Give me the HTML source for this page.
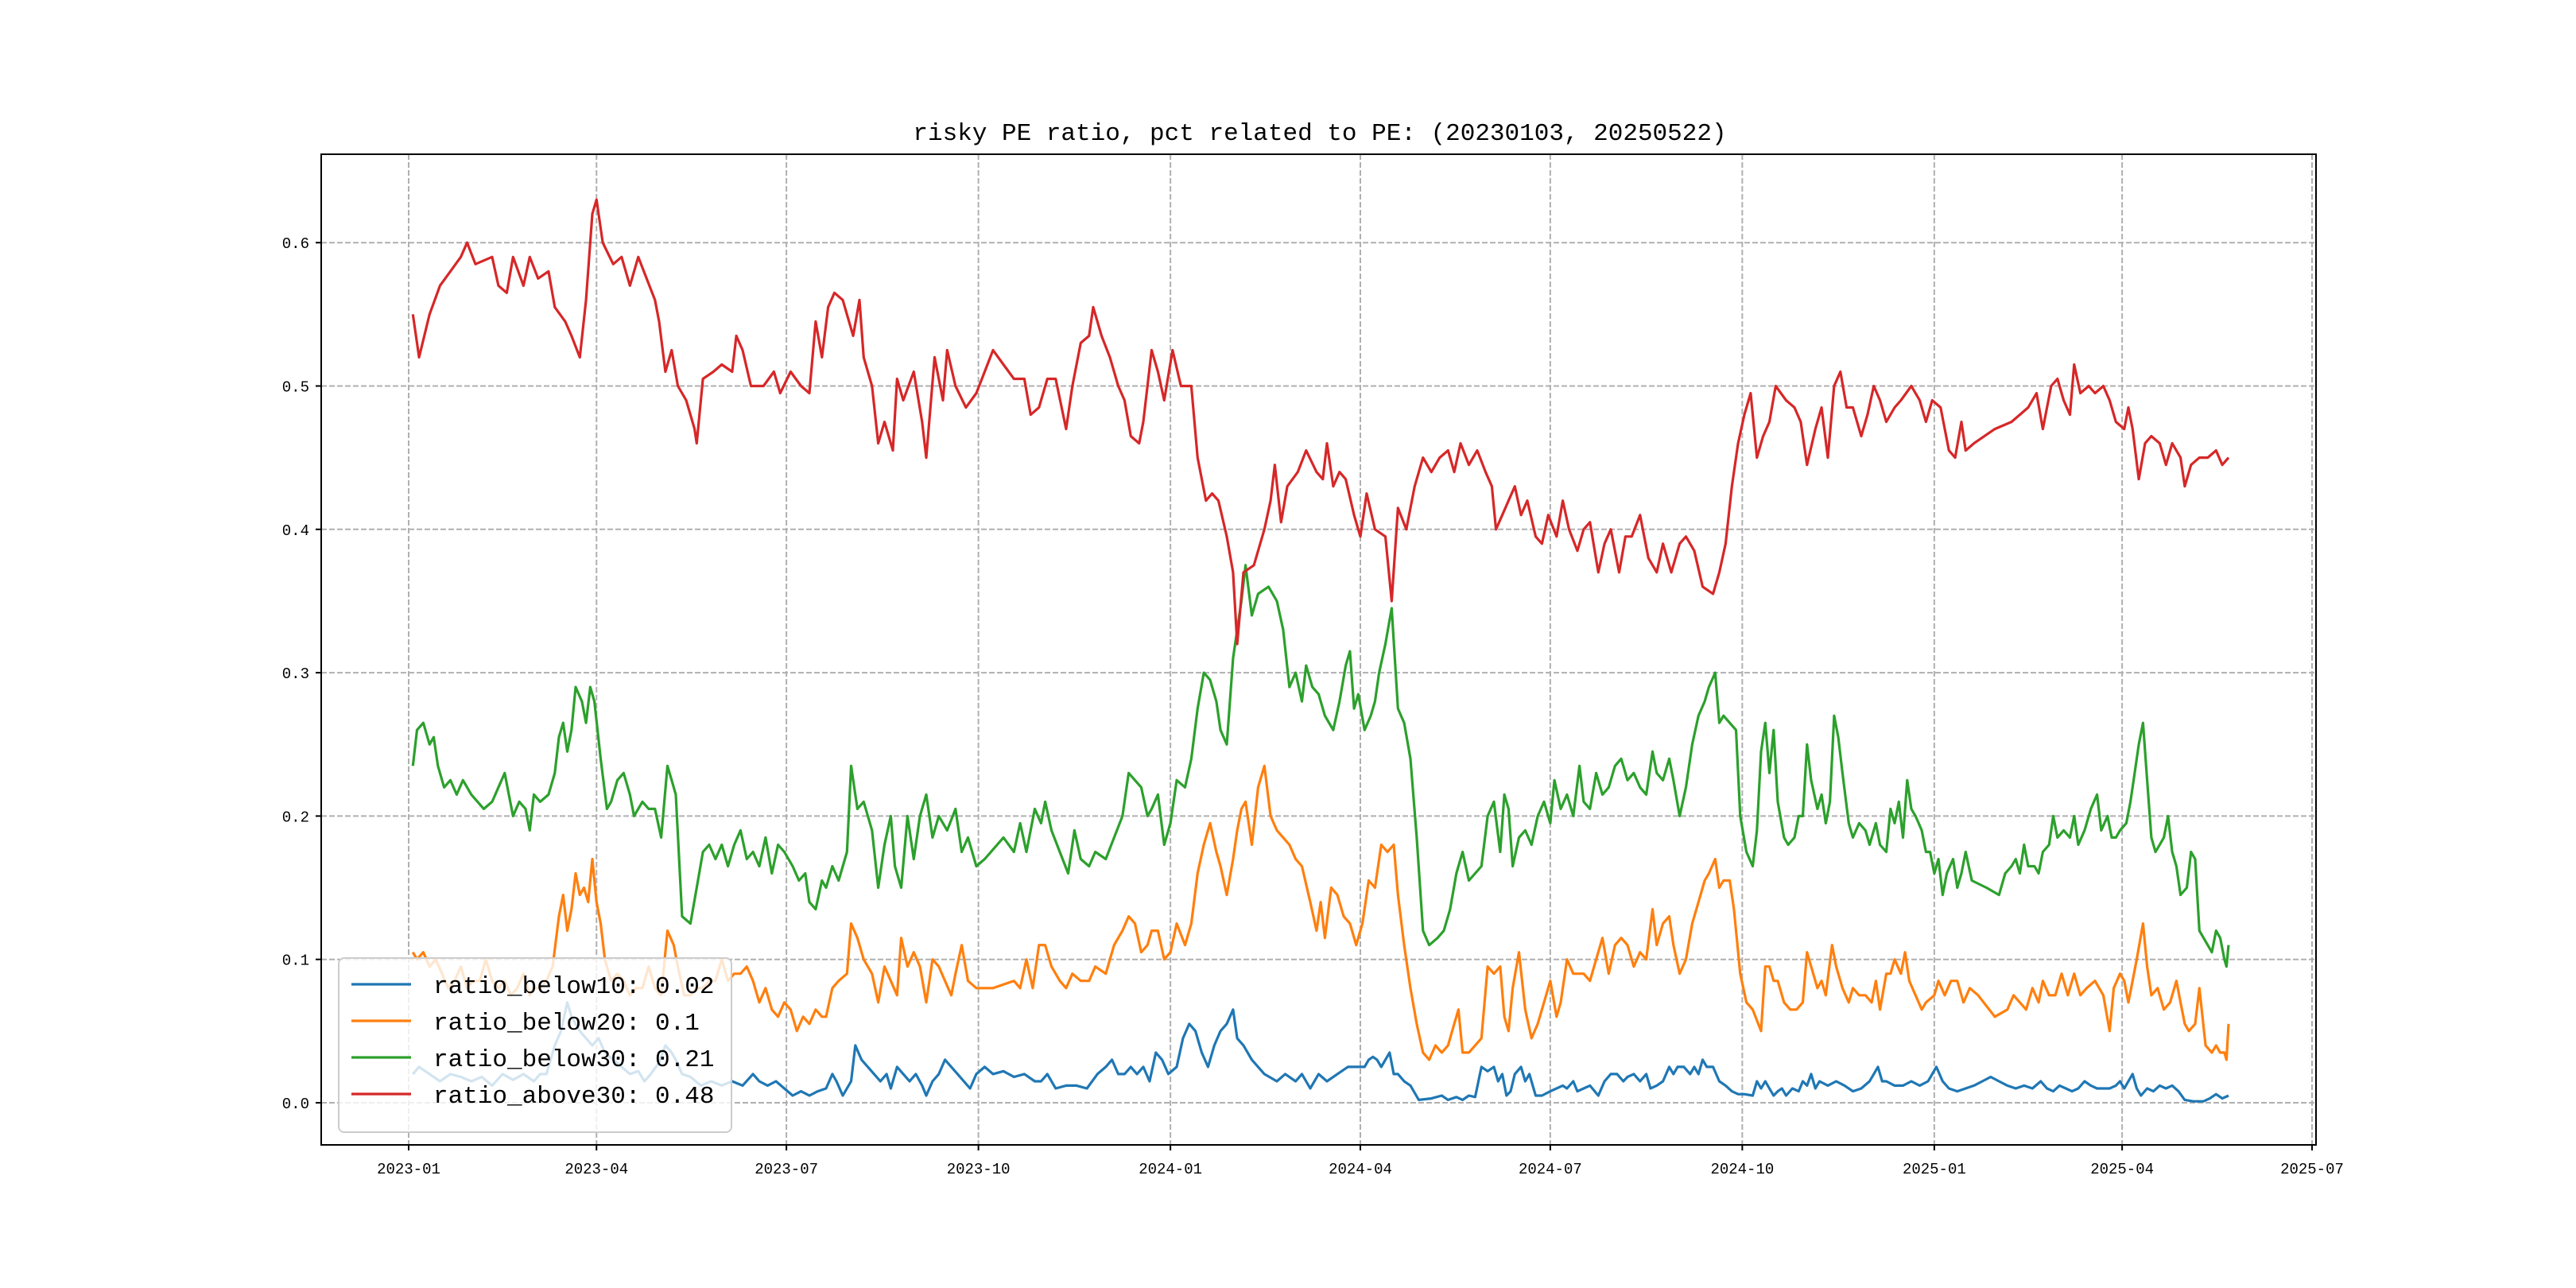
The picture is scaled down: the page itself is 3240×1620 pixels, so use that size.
<!DOCTYPE html>
<html><head><meta charset="utf-8"><style>
html,body{margin:0;padding:0;background:#fff;}
svg{display:block;}
text{font-family:"Liberation Mono","Noto Sans CJK SC",monospace;fill:#000;}
</style></head>
<body>
<svg id="chart" width="3240" height="1620" xmlns="http://www.w3.org/2000/svg">
<rect width="3240" height="1620" fill="#fff"/>
<text x="1660" y="176" font-size="31" text-anchor="middle">risky PE ratio, pct related to PE: (20230103, 20250522)</text>
<g id="grid"></g><g id="ticks"></g><g id="series"></g>
<rect x="404" y="194" width="2509" height="1246" fill="none" stroke="#000" stroke-width="2"/>
<g id="legend"></g>
</svg>
<script>
const NS="http://www.w3.org/2000/svg";
const xTickLabels=["2023-01","2023-04","2023-07","2023-10","2024-01","2024-04","2024-07","2024-10","2025-01","2025-04","2025-07"];
const xTickDays=[0,90,181,273,365,456,547,639,731,821,912];
const yTicks=[0,0.1,0.2,0.3,0.4,0.5,0.6];
const yTickLabels=["0.0","0.1","0.2","0.3","0.4","0.5","0.6"];
const seriesNames=["ratio_below10","ratio_below20","ratio_below30","ratio_above30"];
const lastValues=["0.02","0.1","0.21","0.48"];
const colors=["#1f77b4","#ff7f0e","#2ca02c","#d62728"];
const below10=[[2,.02],[5,.025],[10,.02],[15,.015],[20,.02],[25,.018],[30,.015],[35,.018],[40,.012],[45,.02],[50,.016],[55,.02],[60,.015],[63,.02],[66,.02],[70,.04],[73,.05],[76,.07],[78,.06],[80,.055],[82,.05],[85,.045],[88,.04],[91,.045],[94,.035],[98,.03],[102,.025],[106,.02],[110,.022],[113,.015],[116,.02],[120,.028],[123,.04],[126,.035],[128,.03],[131,.02],[135,.018],[140,.012],[145,.015],[150,.012],[155,.015],[160,.012],[165,.02],[168,.015],[172,.012],[176,.015],[180,.01],[184,.005],[188,.008],[192,.005],[196,.008],[200,.01],[203,.02],[205,.015],[208,.005],[212,.015],[214,.04],[217,.03],[220,.025],[223,.02],[226,.015],[229,.02],[231,.01],[234,.025],[237,.02],[240,.015],[243,.02],[246,.012],[248,.005],[251,.015],[254,.02],[257,.03],[260,.025],[263,.02],[266,.015],[269,.01],[272,.02],[276,.025],[280,.02],[285,.022],[290,.018],[295,.02],[300,.015],[303,.015],[306,.02],[310,.01],[315,.012],[320,.012],[325,.01],[330,.02],[334,.025],[337,.03],[340,.02],[343,.02],[346,.025],[349,.02],[352,.025],[355,.015],[358,.035],[361,.03],[364,.02],[368,.025],[371,.045],[374,.055],[377,.05],[380,.035],[383,.025],[386,.04],[389,.05],[392,.055],[395,.065],[397,.045],[400,.04],[404,.03],[410,.02],[416,.015],[420,.02],[425,.015],[428,.02],[432,.01],[436,.02],[440,.015],[445,.02],[450,.025],[455,.025],[458,.025],[460,.03],[462,.032],[464,.03],[466,.025],[468,.03],[470,.035],[472,.02],[474,.02],[477,.015],[480,.012],[484,.002],[490,.003],[495,.005],[498,.002],[502,.004],[505,.002],[508,.005],[511,.004],[514,.025],[517,.022],[520,.025],[522,.015],[524,.02],[526,.005],[528,.008],[530,.02],[533,.025],[535,.015],[537,.02],[540,.005],[543,.005],[547,.008],[550,.01],[553,.012],[555,.01],[558,.015],[560,.008],[563,.01],[566,.012],[570,.005],[573,.015],[576,.02],[579,.02],[582,.015],[584,.018],[587,.02],[590,.015],[593,.02],[595,.01],[598,.012],[601,.015],[604,.025],[606,.02],[608,.025],[611,.025],[614,.02],[616,.025],[618,.02],[620,.03],[622,.025],[625,.025],[628,.015],[631,.012],[634,.008],[637,.006],[640,.006],[644,.005],[646,.015],[648,.01],[650,.015],[652,.01],[654,.005],[656,.008],[658,.01],[660,.005],[663,.01],[666,.008],[668,.015],[670,.012],[672,.02],[674,.01],[676,.015],[680,.012],[684,.015],[688,.012],[692,.008],[696,.01],[700,.015],[702,.02],[704,.025],[706,.015],[708,.015],[712,.012],[716,.012],[720,.015],[724,.012],[728,.015],[730,.02],[732,.025],[735,.015],[738,.01],[742,.008],[746,.01],[750,.012],[754,.015],[758,.018],[762,.015],[766,.012],[770,.01],[774,.012],[778,.01],[782,.015],[785,.01],[788,.008],[791,.012],[794,.01],[797,.008],[800,.01],[803,.015],[806,.012],[809,.01],[812,.01],[815,.01],[818,.012],[820,.015],[822,.01],[824,.015],[826,.02],[828,.01],[830,.005],[833,.01],[836,.008],[839,.012],[842,.01],[845,.012],[848,.008],[851,.002],[855,.001],[860,.001],[863,.003],[866,.006],[869,.003],[872,.005]];
const below20=[[2,.105],[4,.1],[7,.105],[10,.095],[13,.1],[16,.09],[19,.08],[22,.085],[25,.095],[28,.08],[31,.085],[34,.085],[37,.1],[40,.085],[43,.08],[46,.085],[49,.075],[52,.08],[55,.09],[58,.075],[60,.08],[63,.08],[66,.085],[69,.095],[72,.13],[74,.145],[76,.12],[78,.135],[80,.16],[82,.145],[84,.15],[86,.14],[88,.17],[90,.14],[92,.125],[94,.1],[97,.085],[100,.09],[103,.085],[106,.075],[109,.08],[112,.08],[115,.095],[118,.08],[121,.075],[124,.12],[127,.11],[129,.095],[132,.075],[135,.075],[138,.08],[141,.08],[144,.085],[147,.085],[150,.1],[153,.085],[156,.09],[159,.09],[162,.095],[165,.085],[168,.07],[171,.08],[174,.065],[177,.06],[180,.07],[183,.065],[186,.05],[189,.06],[192,.055],[195,.065],[198,.06],[200,.06],[203,.08],[206,.085],[210,.09],[212,.125],[215,.115],[218,.1],[222,.09],[225,.07],[228,.095],[231,.085],[234,.075],[236,.115],[239,.095],[242,.105],[245,.095],[248,.07],[251,.1],[254,.095],[257,.085],[260,.075],[262,.09],[265,.11],[268,.085],[272,.08],[280,.08],[290,.085],[293,.08],[296,.1],[299,.08],[302,.11],[305,.11],[308,.095],[312,.085],[315,.08],[318,.09],[322,.085],[326,.085],[329,.095],[334,.09],[338,.11],[342,.12],[345,.13],[348,.125],[351,.105],[354,.11],[356,.12],[359,.12],[362,.1],[365,.105],[368,.125],[372,.11],[375,.125],[378,.16],[381,.18],[384,.195],[387,.175],[389,.165],[392,.145],[395,.17],[397,.19],[399,.205],[401,.21],[404,.18],[407,.22],[410,.235],[413,.2],[416,.19],[419,.185],[422,.18],[425,.17],[428,.165],[432,.14],[435,.12],[437,.14],[439,.115],[442,.15],[445,.145],[448,.13],[451,.125],[454,.11],[457,.125],[460,.155],[463,.15],[466,.18],[469,.175],[472,.18],[474,.145],[477,.11],[480,.08],[483,.055],[486,.035],[489,.03],[492,.04],[495,.035],[498,.04],[501,.055],[503,.065],[505,.035],[508,.035],[511,.04],[514,.045],[517,.095],[520,.09],[523,.095],[525,.06],[527,.05],[529,.08],[532,.105],[535,.065],[538,.045],[541,.055],[544,.07],[547,.085],[550,.06],[552,.07],[555,.1],[558,.09],[560,.09],[563,.09],[566,.085],[569,.1],[572,.115],[575,.09],[578,.11],[581,.115],[584,.11],[587,.095],[590,.105],[593,.1],[596,.135],[598,.11],[601,.125],[604,.13],[606,.11],[609,.09],[612,.1],[615,.125],[618,.14],[621,.155],[623,.16],[626,.17],[628,.15],[630,.155],[633,.155],[635,.135],[638,.09],[641,.07],[644,.065],[648,.05],[650,.095],[652,.095],[654,.085],[656,.085],[659,.07],[662,.065],[665,.065],[668,.07],[670,.105],[672,.095],[675,.08],[677,.085],[679,.075],[682,.11],[684,.095],[687,.08],[690,.07],[692,.08],[695,.075],[698,.075],[701,.07],[703,.085],[705,.065],[708,.09],[710,.09],[712,.1],[715,.09],[717,.105],[719,.085],[722,.075],[725,.065],[727,.07],[731,.075],[733,.085],[736,.075],[739,.085],[742,.085],[745,.07],[748,.08],[752,.075],[760,.06],[766,.065],[769,.075],[772,.07],[775,.065],[778,.08],[781,.07],[783,.085],[786,.075],[789,.075],[792,.09],[795,.075],[798,.09],[801,.075],[804,.08],[808,.085],[812,.075],[815,.05],[817,.08],[820,.09],[822,.085],[824,.07],[826,.085],[828,.1],[831,.125],[833,.095],[835,.075],[838,.08],[841,.065],[844,.07],[847,.085],[849,.07],[851,.055],[853,.05],[856,.055],[858,.08],[861,.04],[864,.035],[866,.04],[868,.035],[870,.035],[871,.03],[872,.055]];
const below30=[[2,.235],[4,.26],[7,.265],[10,.25],[12,.255],[14,.235],[17,.22],[20,.225],[23,.215],[26,.225],[30,.215],[36,.205],[40,.21],[43,.22],[46,.23],[48,.215],[50,.2],[53,.21],[56,.205],[58,.19],[60,.215],[63,.21],[67,.215],[70,.23],[72,.255],[74,.265],[76,.245],[78,.26],[80,.29],[83,.28],[85,.265],[87,.29],[89,.28],[92,.24],[95,.205],[97,.21],[100,.225],[103,.23],[106,.215],[108,.2],[112,.21],[115,.205],[118,.205],[121,.185],[124,.235],[126,.225],[128,.215],[131,.13],[135,.125],[138,.15],[141,.175],[144,.18],[147,.17],[150,.18],[153,.165],[156,.18],[159,.19],[162,.17],[165,.175],[168,.165],[171,.185],[174,.16],[177,.18],[180,.175],[184,.165],[187,.155],[190,.16],[192,.14],[195,.135],[198,.155],[200,.15],[203,.165],[206,.155],[210,.175],[212,.235],[215,.205],[218,.21],[222,.19],[225,.15],[228,.18],[231,.2],[233,.165],[236,.15],[239,.2],[242,.17],[245,.2],[248,.215],[251,.185],[254,.2],[258,.19],[262,.205],[265,.175],[268,.185],[272,.165],[276,.17],[285,.185],[290,.175],[293,.195],[296,.175],[300,.205],[303,.195],[305,.21],[308,.19],[312,.175],[316,.16],[319,.19],[322,.17],[326,.165],[329,.175],[334,.17],[338,.185],[342,.2],[345,.23],[348,.225],[351,.22],[354,.2],[356,.205],[359,.215],[362,.18],[365,.195],[368,.225],[372,.22],[375,.24],[378,.275],[381,.3],[384,.295],[387,.28],[389,.26],[392,.25],[395,.31],[397,.33],[399,.35],[401,.375],[404,.34],[407,.355],[412,.36],[416,.35],[419,.33],[422,.29],[425,.3],[428,.28],[430,.305],[433,.29],[436,.285],[439,.27],[443,.26],[446,.28],[449,.305],[451,.315],[453,.275],[455,.285],[458,.26],[461,.27],[463,.28],[465,.3],[468,.32],[471,.345],[474,.275],[477,.265],[480,.24],[483,.185],[486,.12],[489,.11],[493,.115],[496,.12],[499,.135],[502,.16],[505,.175],[508,.155],[511,.16],[514,.165],[517,.2],[520,.21],[523,.175],[525,.215],[527,.205],[529,.165],[532,.185],[535,.19],[538,.18],[541,.2],[544,.21],[547,.195],[549,.225],[552,.205],[555,.215],[558,.2],[561,.235],[563,.21],[566,.205],[569,.23],[572,.215],[575,.22],[578,.235],[581,.24],[584,.225],[587,.23],[590,.22],[593,.215],[596,.245],[598,.23],[601,.225],[604,.24],[606,.225],[609,.2],[612,.22],[615,.25],[618,.27],[621,.28],[623,.29],[626,.3],[628,.265],[630,.27],[633,.265],[636,.26],[638,.2],[641,.175],[644,.165],[646,.19],[648,.245],[650,.265],[652,.23],[654,.26],[656,.21],[659,.185],[661,.18],[664,.185],[666,.2],[668,.2],[670,.25],[672,.225],[675,.205],[677,.215],[679,.195],[681,.21],[683,.27],[685,.255],[687,.23],[690,.195],[692,.185],[695,.195],[698,.19],[700,.18],[703,.195],[705,.18],[708,.175],[710,.205],[712,.195],[714,.21],[716,.185],[718,.225],[720,.205],[722,.2],[725,.19],[727,.175],[729,.175],[731,.16],[733,.17],[735,.145],[737,.16],[740,.17],[742,.15],[744,.16],[746,.175],[749,.155],[756,.15],[762,.145],[765,.16],[768,.165],[770,.17],[772,.16],[774,.18],[776,.165],[779,.165],[781,.16],[783,.175],[786,.18],[788,.2],[790,.185],[793,.19],[796,.185],[798,.2],[800,.18],[803,.19],[806,.205],[809,.215],[811,.19],[814,.2],[816,.185],[818,.185],[820,.19],[823,.195],[825,.21],[827,.23],[829,.25],[831,.265],[833,.225],[835,.185],[837,.175],[839,.18],[841,.185],[843,.2],[845,.175],[847,.165],[849,.145],[852,.15],[854,.175],[856,.17],[858,.12],[862,.11],[864,.105],[866,.12],[868,.115],[870,.1],[871,.095],[872,.11]];
const above30=[[2,.55],[5,.52],[10,.55],[15,.57],[20,.58],[25,.59],[28,.6],[32,.585],[40,.59],[43,.57],[47,.565],[50,.59],[55,.57],[58,.59],[62,.575],[67,.58],[70,.555],[75,.545],[78,.535],[82,.52],[85,.56],[88,.62],[90,.63],[93,.6],[98,.585],[102,.59],[106,.57],[110,.59],[114,.575],[118,.56],[120,.545],[123,.51],[126,.525],[129,.5],[133,.49],[137,.47],[138,.46],[141,.505],[146,.51],[150,.515],[155,.51],[157,.535],[160,.525],[164,.5],[170,.5],[175,.51],[178,.495],[183,.51],[188,.5],[192,.495],[195,.545],[198,.52],[201,.555],[204,.565],[208,.56],[213,.535],[216,.56],[218,.52],[222,.5],[225,.46],[228,.475],[232,.455],[234,.505],[237,.49],[242,.51],[246,.475],[248,.45],[252,.52],[256,.49],[258,.525],[262,.5],[267,.485],[272,.495],[276,.51],[280,.525],[285,.515],[290,.505],[295,.505],[298,.48],[302,.485],[306,.505],[310,.505],[315,.47],[318,.5],[322,.53],[326,.535],[328,.555],[332,.535],[336,.52],[340,.5],[343,.49],[346,.465],[350,.46],[352,.475],[356,.525],[359,.51],[362,.49],[366,.525],[370,.5],[375,.5],[378,.45],[382,.42],[385,.425],[388,.42],[392,.395],[395,.37],[397,.32],[400,.37],[405,.375],[410,.4],[413,.42],[415,.445],[418,.405],[421,.43],[426,.44],[430,.455],[435,.44],[438,.435],[440,.46],[443,.43],[446,.44],[449,.435],[453,.41],[456,.395],[459,.425],[463,.4],[468,.395],[471,.35],[474,.415],[478,.4],[482,.43],[486,.45],[490,.44],[494,.45],[498,.455],[501,.44],[504,.46],[508,.445],[512,.455],[516,.44],[519,.43],[521,.4],[524,.41],[527,.42],[530,.43],[533,.41],[536,.42],[540,.395],[543,.39],[546,.41],[550,.395],[553,.42],[556,.4],[560,.385],[563,.4],[566,.405],[570,.37],[573,.39],[576,.4],[580,.37],[583,.395],[586,.395],[590,.41],[594,.38],[598,.37],[601,.39],[605,.37],[609,.39],[612,.395],[616,.385],[620,.36],[625,.355],[628,.37],[631,.39],[634,.43],[637,.46],[640,.48],[643,.495],[646,.45],[649,.465],[652,.475],[655,.5],[660,.49],[664,.485],[667,.475],[670,.445],[674,.47],[677,.485],[680,.45],[683,.5],[686,.51],[689,.485],[692,.485],[696,.465],[699,.48],[702,.5],[705,.49],[708,.475],[712,.485],[715,.49],[720,.5],[724,.49],[727,.475],[730,.49],[734,.485],[738,.455],[741,.45],[744,.475],[746,.455],[750,.46],[760,.47],[768,.475],[772,.48],[776,.485],[780,.495],[783,.47],[787,.5],[790,.505],[793,.49],[796,.48],[798,.515],[801,.495],[805,.5],[808,.495],[812,.5],[815,.49],[818,.475],[822,.47],[824,.485],[826,.47],[829,.435],[832,.46],[835,.465],[839,.46],[842,.445],[845,.46],[849,.45],[851,.43],[854,.445],[858,.45],[862,.45],[866,.455],[869,.445],[872,.45]];
const allSeries=[below10,below20,below30,above30];

const X0=514, PXD=2.625, Y0=1387, PXV=1803;
function xs(d){return X0+d*PXD;}
function ys(v){return Y0-v*PXV;}
function mk(tag,attrs,parent){const e=document.createElementNS(NS,tag);for(const k in attrs)e.setAttribute(k,attrs[k]);parent.appendChild(e);return e;}

const grid=document.getElementById('grid'), ticks=document.getElementById('ticks');
xTickDays.forEach((d,i)=>{
  const x=xs(d);
  const g=mk('line',{x1:x,x2:x,y1:194,y2:1440,stroke:'#b0b0b0','stroke-width':2,'stroke-dasharray':'7,3'},grid);
  
  
  mk('line',{x1:x,x2:x,y1:1440,y2:1447,stroke:'#000','stroke-width':2},ticks);
  const t=mk('text',{x:x,y:1476,'font-size':19,'text-anchor':'middle'},ticks);
  t.textContent=xTickLabels[i];
  
  
});
yTicks.forEach((v,i)=>{
  const y=ys(v);
  const g=mk('line',{x1:404,x2:2913,y1:y,y2:y,stroke:'#b0b0b0','stroke-width':2,'stroke-dasharray':'7,3'},grid);
  
  
  mk('line',{x1:397,x2:404,y1:y,y2:y,stroke:'#000','stroke-width':2},ticks);
  const t=mk('text',{x:389,y:y+7,'font-size':19,'text-anchor':'end'},ticks);
  t.textContent=yTickLabels[i];
  
  
});
const sg=document.getElementById('series');
allSeries.forEach((s,i)=>{
  const p=mk('polyline',{points:s.map(q=>xs(q[0]).toFixed(1)+','+ys(q[1]).toFixed(1)).join(' '),fill:'none',stroke:colors[i],'stroke-width':3.2,'stroke-linejoin':'round'},sg);
  
  
});
const lg=document.getElementById('legend');
const box=mk('rect',{x:426,y:1205,width:494,height:219,rx:7,fill:'#fff','fill-opacity':0.8,stroke:'#ccc','stroke-width':2},lg);


seriesNames.forEach((n,i)=>{
  const y=1238+i*46;
  const l=mk('line',{x1:442,x2:517,y1:y,y2:y,stroke:colors[i],'stroke-width':3.2},lg);
  
  
  const t=mk('text',{x:545,y:y+11,'font-size':31},lg);
  t.textContent=n+': '+lastValues[i];
  
  
});
</script>
</body></html>
